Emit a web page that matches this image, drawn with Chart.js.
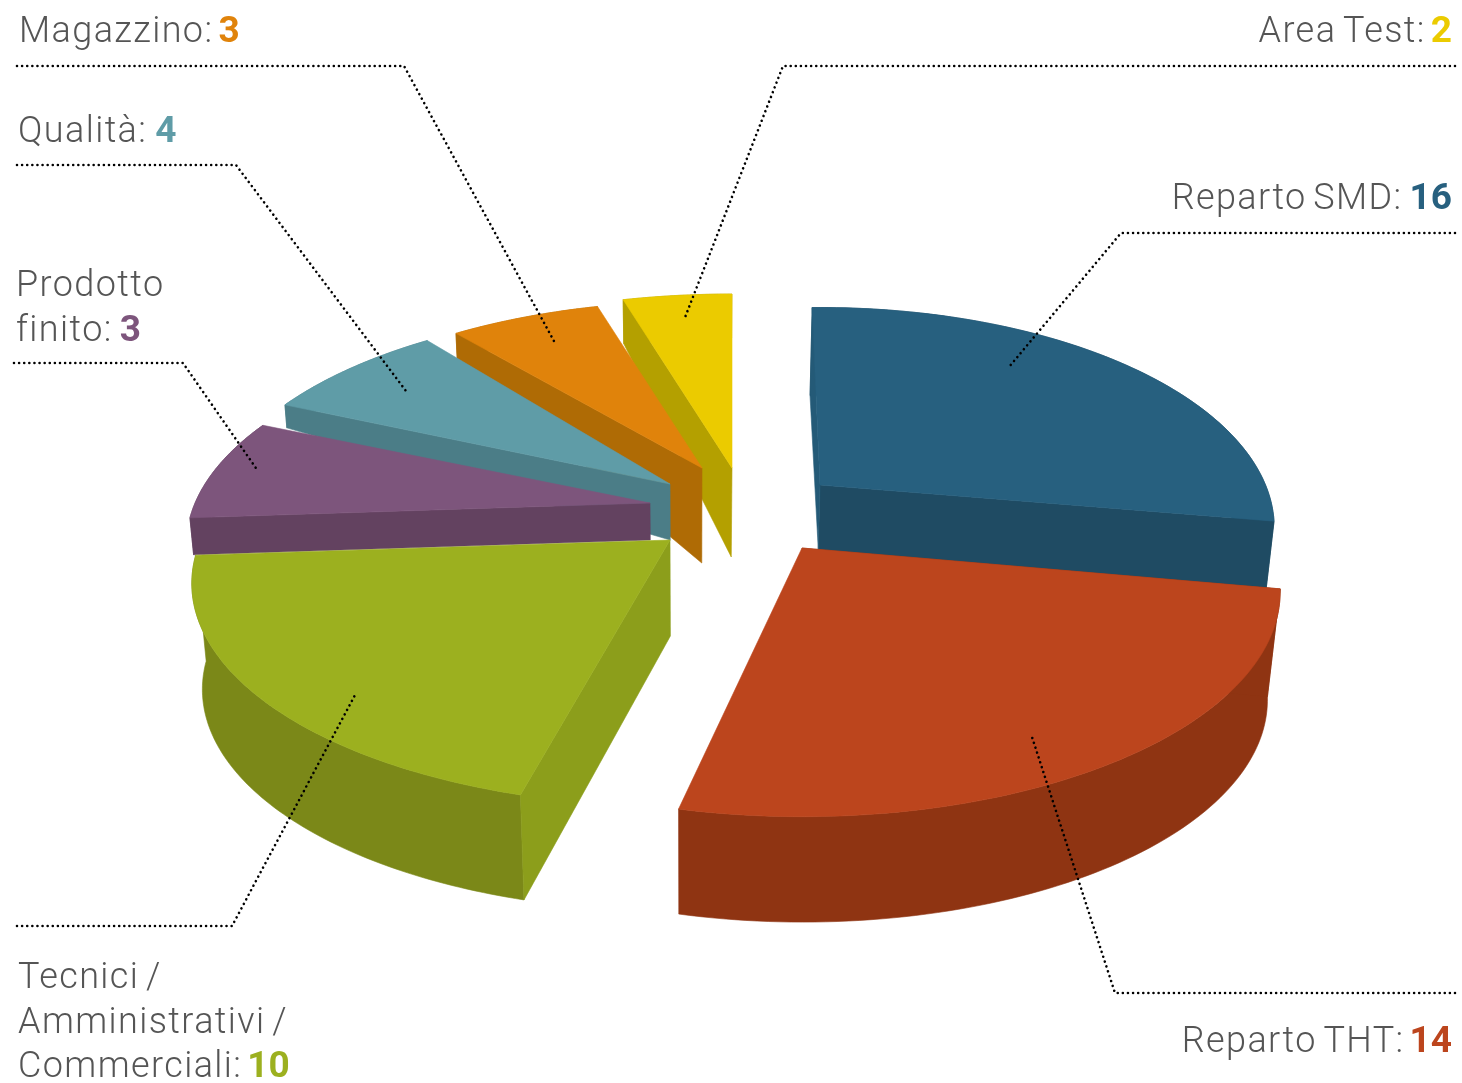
<!DOCTYPE html>
<html><head><meta charset="utf-8">
<style>html,body{margin:0;padding:0;background:#fff}canvas{display:block}</style>
<script src="https://cdn.jsdelivr.net/npm/chart.js@4"></script>
</head><body><canvas id="c" width="1462" height="1083"></canvas>
<script>
const categories = ['Reparto SMD','Reparto THT','Tecnici / Amministrativi / Commerciali','Prodotto finito','Qualità','Magazzino','Area Test'];
const values = [16,14,10,3,4,3,2];
const topColors = ['#27607F','#BC451D','#9CB01F','#7D557C','#5F9CA7','#E0830B','#EBCB00'];
const rimColors = ['#1F4B63','#8F3412','#7B8818','#634260','#4B7D87','#AF6B05','#B4A000'];
const startFaceColors = ['#245A77','#8F3412','#8C9E1B','#634260','#4B7D87','#AF6B05','#B4A000'];
const endFaceColors = ['#1F4B63',null,null,null,null,null,null];
const drawOrder = [6,5,4,3,0,2,1];
// exploded-view layout of each slice
const apexX = [820,802,670,650,670,702,732];
const apexY = [485,548,540,503,484,468,468];
const scaleX = [0.95,1,1,0.97,0.97,0.96,1];
const scaleY = [1.01,1.03,1.02,1,1,0.95,0.99];
const nudgeStart = [0,0.5,2,0,0,0,0];
const nudgeEnd = [-0.5,-0.7,0,-0.5,1,0,0];
const depthApex = [65,105,96,37,56,95,89];
const depthStart = [88,108,105,37,23,25,44];
const depthEnd = [70,105,106,37,23,25,44];
// camera: ground-plane projection and calibration of the drawn angle
const cam = {a:469,b:0,c:0,d:210,g:0,h:-0.195,vpx:690,k:0.0002};
const warpFrom = [0,110.77,207.69,276.92,297.69,325.38,346.15,360];
const warpTo = [-1.2,100,193,266,294,321,344,360];
// labels
const labelLines = [['Reparto SMD:'],['Reparto THT:'],['Tecnici /','Amministrativi /','Commerciali:'],['Prodotto','finito:'],['Qualità:'],['Magazzino:'],['Area Test:']];
const labelAlign = ['right','right','left','left','left','left','right'];
const labelX = [1452,1452,18,16,18,19,1452];
const labelY = [209,1052,988,296,142,42,42];
const valueGaps = [7,5,5,7,8,5,5];
const lineGap = 44.5;
const leaders = [
 [[1455,233],[1121,233],[1009,367]],
 [[1455,993],[1115,993],[1032,737]],
 [[17,926],[232,926],[355,695]],
 [[14,363],[183,363],[258,471]],
 [[17,165],[236,165],[406,391]],
 [[17,66],[404,66],[555,343]],
 [[1455,66],[783,66],[684,320]]
];
function warp(t){
  for(let i=0;i<warpFrom.length-1;i++){
    if(t<=warpFrom[i+1]+0.02){
      const f=(t-warpFrom[i])/(warpFrom[i+1]-warpFrom[i]);
      return warpTo[i]+f*(warpTo[i+1]-warpTo[i]);
    }
  }
  return t;
}
function rimPoint(i,deg,f){
  const a=warp(deg)+nudgeStart[i]*(1-f)+nudgeEnd[i]*f;
  const r=a*Math.PI/180,u=Math.sin(r),v=-Math.cos(r),D=1+cam.g*u+cam.h*v;
  return [apexX[i]+scaleX[i]*(cam.a*u+cam.b*v)/D, apexY[i]+scaleY[i]*(cam.c*u+cam.d*v)/D];
}
function drop(p,h){ return [p[0]+(cam.vpx-p[0])*h*cam.k, p[1]+h]; }
function poly(ctx,pts,color){
  ctx.beginPath();
  pts.forEach((p,j)=>j?ctx.lineTo(p[0],p[1]):ctx.moveTo(p[0],p[1]));
  ctx.closePath();
  ctx.fillStyle=color;ctx.strokeStyle=color;ctx.lineWidth=0.6;ctx.lineJoin='round';
  ctx.fill();ctx.stroke();
}
const pie3d = {
  id:'pie3d',
  beforeDatasetDraw(chart,args){
    const ctx=chart.ctx, arcs=chart.getDatasetMeta(args.index).data;
    ctx.save();
    drawOrder.forEach(i=>{
      const el=arcs[i];
      const s=(el.startAngle+Math.PI/2)*180/Math.PI, e=(el.endAngle+Math.PI/2)*180/Math.PI;
      const apex=[apexX[i],apexY[i]], apexB=drop(apex,depthApex[i]);
      const top=[],bot=[],n=80;
      for(let j=0;j<=n;j++){
        const f=j/n,p=rimPoint(i,s+(e-s)*f,f);
        top.push(p);bot.push(drop(p,depthStart[i]+(depthEnd[i]-depthStart[i])*f));
      }
      poly(ctx,top.concat(bot.slice().reverse()),rimColors[i]);
      if(endFaceColors[i]) poly(ctx,[apex,top[n],bot[n],apexB],endFaceColors[i]);
      if(startFaceColors[i]) poly(ctx,[apex,top[0],bot[0],apexB],startFaceColors[i]);
      poly(ctx,[apex].concat(top),el.options.backgroundColor);
    });
    ctx.restore();
    return false;
  },
  afterDraw(chart){
    const ctx=chart.ctx;
    ctx.save();
    ctx.strokeStyle='#000';ctx.lineWidth=2.6;ctx.lineCap='round';ctx.setLineDash([0.01,5.1]);
    leaders.forEach(l=>{ctx.beginPath();l.forEach((p,j)=>j?ctx.lineTo(p[0],p[1]):ctx.moveTo(p[0],p[1]));ctx.stroke();});
    ctx.setLineDash([]);
    ctx.textBaseline='alphabetic';ctx.textAlign='left';
    const lightF='300 36px Roboto',boldF='700 37px Roboto';
    categories.forEach((c,i)=>{
      const lines=labelLines[i];
      lines.forEach((t,k)=>{
        const y=labelY[i]+k*lineGap, last=k===lines.length-1;
        ctx.letterSpacing='1.4px';ctx.wordSpacing='-3.5px';
        ctx.font=lightF;
        const w=ctx.measureText(t).width;
        ctx.letterSpacing='0px';ctx.wordSpacing='0px';
        ctx.font=boldF;
        const vs=String(values[i]);
        const vw=last?ctx.measureText(vs).width:0;
        let x=labelX[i];
        if(labelAlign[i]==='right') x-=w+valueGaps[i]+vw;
        ctx.letterSpacing='1.4px';ctx.wordSpacing='-3.5px';
        ctx.font=lightF;ctx.fillStyle='#555';ctx.fillText(t,x,y);
        ctx.letterSpacing='0px';ctx.wordSpacing='0px';
        if(last){ctx.font=boldF;ctx.fillStyle=topColors[i];ctx.fillText(vs,x+w+valueGaps[i],y);}
      });
    });
    ctx.restore();
  }
};
new Chart(document.getElementById('c'),{
  type:'pie',
  data:{labels:categories,datasets:[{data:values,backgroundColor:topColors,borderWidth:0}]},
  options:{responsive:false,animation:false,plugins:{legend:{display:false},tooltip:{enabled:false}}},
  plugins:[pie3d]
});
</script></body></html>
